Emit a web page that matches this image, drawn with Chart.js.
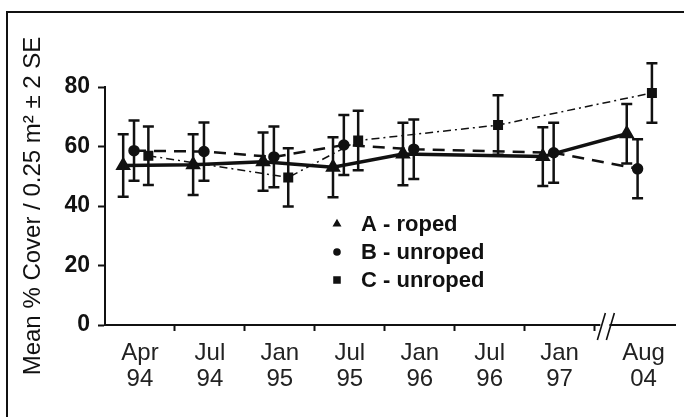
<!DOCTYPE html>
<html>
<head>
<meta charset="utf-8">
<script src="https://cdn.jsdelivr.net/npm/chart.js@4.4.1/dist/chart.umd.min.js"></script>
<style>
  html, body { margin: 0; padding: 0; background: #fff; }
  #wrap { position: relative; width: 684px; height: 417px; }
</style>
</head>
<body>
<div id="wrap"><canvas id="coverChart" width="684" height="417"></canvas></div>
<script>
// sampling dates (two-line tick labels) and where they sit on the broken time axis
const periods = [['Apr', '94'], ['Jul', '94'], ['Jan', '95'], ['Jul', '95'], ['Jan', '96'], ['Jul', '96'], ['Jan', '97'], ['Aug', '04']];
const periodX = [0.5, 1.5, 2.5, 3.5, 4.5, 5.5, 6.5, 7.7];
const yTicks = [0, 20, 40, 60, 80];
const seriesNames = ['A - roped', 'B - unroped', 'C - unroped'];

// mean % cover and 2 SE for each plot (null = not sampled)
const plotA = [53.6, 53.9, 54.9, 53.0, 57.5, null, 56.6, 64.3];
const plotASE = [10.5, 10.2, 9.8, 10.1, 10.5, null, 9.9, 10.0];
const plotB = [58.6, 58.3, 56.5, 60.5, 59.1, null, 57.9, 52.5];
const plotBSE = [10.1, 9.8, 10.2, 10.1, 10.0, null, 10.1, 9.9];
const plotC = [56.9, null, 49.6, 62.0, null, 67.2, null, 78.0];
const plotCSE = [9.8, null, 9.8, 10.0, null, 10.0, null, 10.0];

const INK = '#111';
Chart.defaults.font.family = '"Liberation Sans", Arial, sans-serif';
Chart.defaults.color = INK;

// small side-by-side shift so the error bars of the 3 plots don't overlap
function buildPoints(values, errs, shift) {
    const pts = [];
    values.forEach(function (v, i) {
        if (v === null) { return; }
        pts.push({ x: periodX[i] + shift, y: v, err: errs[i] });
    });
    return pts;
}

const errorBars = {
    id: 'errorBars',
    afterDatasetsDraw(chart) {
        const ctx = chart.ctx;
        const y = chart.scales.y;
        ctx.save();
        ctx.strokeStyle = INK;
        ctx.lineWidth = 2.5;
        chart.data.datasets.forEach(function (ds, i) {
            const meta = chart.getDatasetMeta(i);
            meta.data.forEach(function (pt, j) {
                const d = ds.data[j];
                const top = y.getPixelForValue(d.y + d.err);
                const bot = y.getPixelForValue(d.y - d.err);
                ctx.beginPath();
                ctx.moveTo(pt.x, top); ctx.lineTo(pt.x, bot);
                ctx.moveTo(pt.x - 5.5, top); ctx.lineTo(pt.x + 5.5, top);
                ctx.moveTo(pt.x - 5.5, bot); ctx.lineTo(pt.x + 5.5, bot);
                ctx.stroke();
            });
        });
        ctx.restore();
    }
};

// frame, axis break and the in-plot legend
const decorations = {
    id: 'decorations',
    afterDraw(chart) {
        const ctx = chart.ctx;
        const xs = chart.scales.x;
        const area = chart.chartArea;
        ctx.save();
        ctx.strokeStyle = INK;
        ctx.lineWidth = 2;
        ctx.beginPath();
        ctx.moveTo(7, chart.height); ctx.lineTo(7, 12); ctx.lineTo(chart.width, 12);
        ctx.stroke();

        // "//" break between Jan 97 and Aug 04
        const bx = xs.getPixelForValue(7.14);
        const by = area.bottom;
        ctx.fillStyle = '#fff';
        ctx.fillRect(bx - 4, by - 3, 9, 6);
        ctx.lineWidth = 1.6;
        ctx.beginPath();
        ctx.moveTo(bx - 7, by + 15); ctx.lineTo(bx + 1, by - 12);
        ctx.moveTo(bx + 2, by + 15); ctx.lineTo(bx + 10, by - 12);
        ctx.stroke();

        // legend
        ctx.font = 'bold 22px "Liberation Sans", Arial, sans-serif';
        ctx.textBaseline = 'middle';
        ctx.textAlign = 'left';
        const rows = [224, 252, 280];
        const sizes = [3.6, 3, 4.2];
        chart.data.datasets.forEach(function (ds, i) {
            ctx.fillStyle = INK;
            ctx.strokeStyle = INK;
            Chart.helpers.drawPoint(ctx, { pointStyle: ds.pointStyle, radius: sizes[i], rotation: 0, borderWidth: 1 }, 337, rows[i]);
            ctx.fillStyle = INK;
            ctx.fillText(ds.label, 361, rows[i] + 1);
        });
        ctx.restore();
    }
};

const canvas = document.getElementById('coverChart');
new Chart(canvas, {
    type: 'line',
    data: {
        datasets: [{
            label: seriesNames[0],
            data: buildPoints(plotA, plotASE, -0.24),
            borderColor: INK, backgroundColor: INK,
            borderWidth: 3.5,
            pointStyle: 'triangle', pointRadius: 5.5,
            pointBackgroundColor: INK, pointBorderColor: INK
        }, {
            label: seriesNames[1],
            data: buildPoints(plotB, plotBSE, -0.085),
            borderColor: INK, backgroundColor: INK,
            borderWidth: 2.5, borderDash: [12, 8],
            pointStyle: 'circle', pointRadius: 4.5,
            pointBackgroundColor: INK, pointBorderColor: INK
        }, {
            label: seriesNames[2],
            data: buildPoints(plotC, plotCSE, 0.12),
            borderColor: INK, backgroundColor: INK,
            borderWidth: 1.5, borderDash: [8, 4, 2, 4],
            pointStyle: 'rect', pointRadius: 6,
            pointBackgroundColor: INK, pointBorderColor: INK
        }]
    },
    options: {
        responsive: false,
        animation: false,
        devicePixelRatio: 1,
        layout: { padding: { top: 87, left: 0, right: 0, bottom: 0 } },
        plugins: {
            legend: { display: false },
            tooltip: { enabled: false }
        },
        scales: {
            x: {
                type: 'linear',
                min: 0,
                max: 8.15,
                afterBuildTicks(scale) {
                    const vals = periodX.concat([1, 2, 3, 4, 5, 6, 7]).sort(function (a, b) { return a - b; });
                    scale.ticks = vals.map(function (v) { return { value: v }; });
                },
                afterFit(scale) { scale.height = 92; },
                ticks: {
                    autoSkip: false,
                    maxRotation: 0,
                    padding: 9,
                    color: '#222',
                    font: { size: 24, lineHeight: 1.08 },
                    callback(value) {
                        const i = periodX.indexOf(value);
                        return i >= 0 ? periods[i] : '';
                    }
                },
                grid: {
                    drawOnChartArea: false,
                    tickLength: 6,
                    tickWidth: 2,
                    tickColor(ctx) {
                        return ctx.tick && Number.isInteger(ctx.tick.value) ? INK : 'rgba(0,0,0,0)';
                    }
                },
                border: { display: true, color: INK, width: 2 }
            },
            y: {
                min: 0,
                max: 80,
                afterFit(scale) { scale.width = 105; },
                ticks: {
                    stepSize: 10,
                    padding: 8,
                    color: INK,
                    font: { size: 23, weight: 'bold' },
                    callback(value) { return yTicks.includes(value) ? String(value) : ''; }
                },
                grid: {
                    drawOnChartArea: false,
                    tickLength: 7,
                    tickWidth: 2,
                    tickColor: INK
                },
                border: { display: true, color: INK, width: 2 },
                title: {
                    display: true,
                    text: 'Mean % Cover / 0.25 m\u00B2 \u00B1 2 SE',
                    color: INK,
                    font: { size: 24 },
                    padding: { top: 19, bottom: 0 }
                }
            }
        }
    },
    plugins: [errorBars, decorations]
});
</script>
</body>
</html>
